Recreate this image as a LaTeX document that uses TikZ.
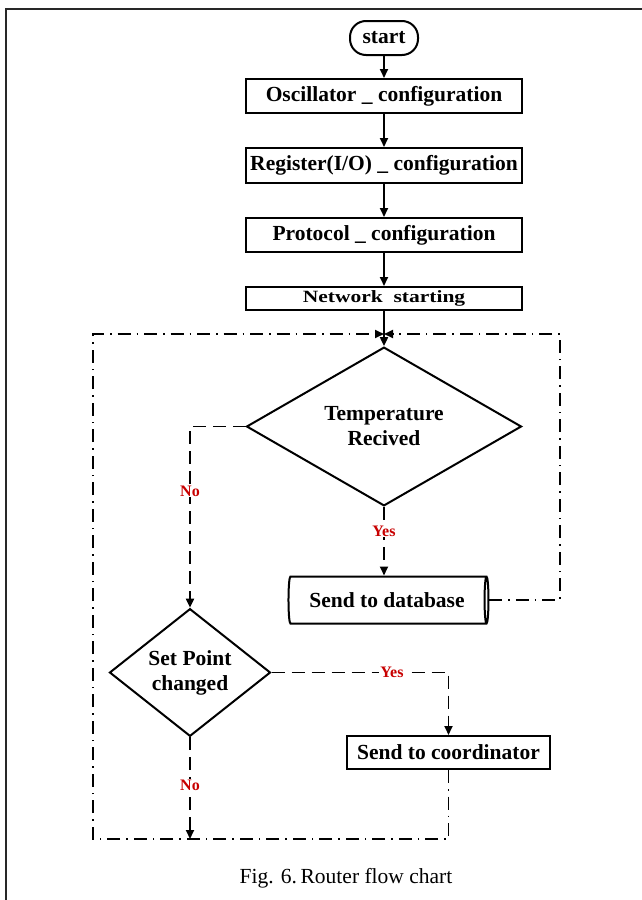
\documentclass[tikz,border=0pt]{standalone}
\usepackage{fontspec}
\usepackage{graphicx}
\setmainfont{Liberation Serif}
\usetikzlibrary{shapes.geometric,arrows.meta}
\definecolor{lblred}{RGB}{200,0,0}
\definecolor{framegray}{RGB}{40,40,40}
\begin{document}
\begin{tikzpicture}[x=1pt,y=1pt,
  bigtxt/.style={font=\fontsize{21.5}{25}\selectfont\bfseries},
  box/.style={bigtxt, draw, line width=2pt, minimum width=276pt, minimum height=34pt, inner sep=0pt},
  startbox/.style={bigtxt, draw, line width=2pt, rounded corners=16pt, minimum width=68pt, minimum height=34pt, inner sep=0pt},
  decision/.style={bigtxt, draw, diamond, line width=2pt, inner sep=0pt, align=center},
  dbshape/.style={bigtxt, draw, cylinder, shape border rotate=0, aspect=0.26, line width=2pt, minimum width=47pt, minimum height=200pt, inner sep=0pt},
  conn/.style={line width=1.8pt},
  arr/.style={-{Triangle[length=9pt,width=8pt]}},
  dsh/.style={conn, dash pattern=on 13pt off 7pt},
  dd/.style={conn, dash pattern=on 13pt off 6pt on 1.5pt off 6pt},
  lbl/.style={font=\fontsize{16}{18}\selectfont\bfseries, text=lblred, fill=white, inner sep=1pt}
]
\useasboundingbox (0,0) rectangle (642,-900);
% frame (top and left edges only)
\draw[framegray, line width=2pt] (5,-9) -- (642,-9);
\draw[framegray, line width=2pt] (6,-9) -- (6,-900);

\node[startbox] (start) at (384,-38) {start};
\node[box] (osc) at (384,-96) {Oscillator \_ configuration};
\node[box, minimum height=35pt] (reg) at (384,-165.5) {Register(I/O) \_ configuration};
\node[box] (proto) at (384,-235) {Protocol \_ configuration};
\node[box, minimum height=23pt] (net) at (384,-298.5) {\scalebox{1}[0.8]{Network\ \ starting}};
\node[decision, minimum width=275pt, minimum height=119pt] (temp) at (384,-426.5) {Temperature\\Recived};
\node[dbshape] (db) at (387,-600) {Send to database};
\node[decision, minimum width=161pt, minimum height=119pt] (sp) at (190,-672.5) {Set Point\\changed};
\node[box, minimum width=203pt, minimum height=33pt] (coord) at (448.5,-752.5) {Send to coordinator};
\node[font=\fontsize{21.5}{25}\selectfont] (cap) at (346,-878) {Fig. 6.\,Router flow chart};

\coordinate (m) at (384,-334);
\coordinate (bl) at (93,-839);
\coordinate (tl) at (93,-334);
\coordinate (tr) at (560,-334);

\draw[conn, arr] (start) -- (osc);
\draw[conn, arr] (osc) -- (reg);
\draw[conn, arr] (reg) -- (proto);
\draw[conn, arr] (proto) -- (net);
\draw[conn, arr] (net) -- (temp);

\draw[dd, arr] (coord.south) |- (bl) -- (tl) -- (m);
\draw[dd, arr] (db.east) -| (tr) -- (m);

\draw[dsh, arr] (temp.west) -| (sp.north);
\draw[dsh, arr] (temp.south) -- (temp.south |- db.north);
\draw[dsh, arr] (sp.south) -- (sp.south |- bl);
\draw[dsh, arr] (sp.east) -| (coord.north);

\node[lbl] (no1) at (190,-491) {No};
\node[lbl] (yes1) at (384,-531) {Yes};
\node[lbl] (yes2) at (392,-672) {Yes};
\node[lbl] (no2) at (190,-785) {No};
\end{tikzpicture}
\end{document}
